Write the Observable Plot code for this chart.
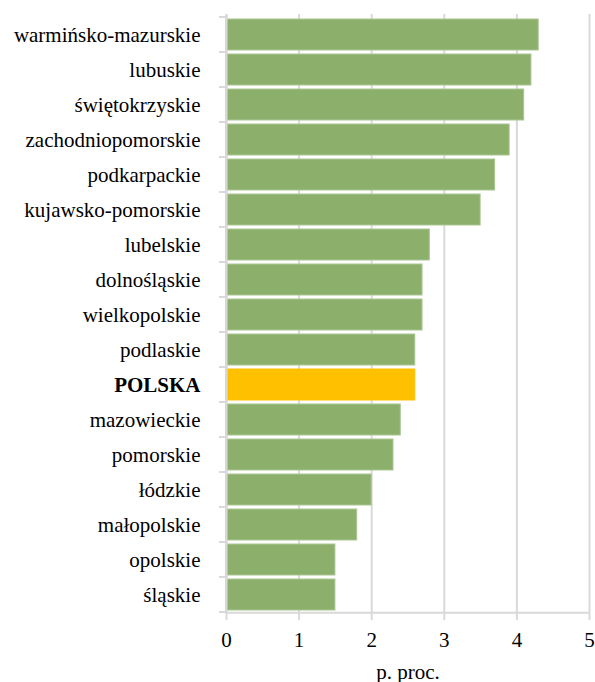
<!DOCTYPE html>
<html>
<head>
<meta charset="utf-8">
<script src="https://cdn.jsdelivr.net/npm/d3@7"></script>
<script src="https://cdn.jsdelivr.net/npm/@observablehq/plot@0.6"></script>
<style>
  html, body { margin: 0; padding: 0; background: #fff; }
  #chart svg { display: block; }
  #chart svg, #chart svg text { font-family: "Liberation Serif", "Times New Roman", serif !important; }
</style>
</head>
<body>
<div id="chart"></div>
<script>
const regions = [
  "warmińsko-mazurskie", "lubuskie", "świętokrzyskie", "zachodniopomorskie",
  "podkarpackie", "kujawsko-pomorskie", "lubelskie", "dolnośląskie",
  "wielkopolskie", "podlaskie", "POLSKA", "mazowieckie", "pomorskie",
  "łódzkie", "małopolskie", "opolskie", "śląskie"
];
const values = [4.3, 4.2, 4.1, 3.9, 3.7, 3.5, 2.8, 2.7, 2.7, 2.6, 2.6, 2.4, 2.3, 2.0, 1.8, 1.5, 1.5];
const xTicks = [0, 1, 2, 3, 4, 5];
const xLabel = "p. proc.";
const highlight = "POLSKA";

const data = regions.map((r, i) => ({region: r, value: values[i]}));

const W = 595, H = 682, mTop = 14, mBottom = 68, mLeft = 226, mRight = 6;
const step = (H - mTop - mBottom) / regions.length;
const grid = "#d9d9d9";
const font = "'Liberation Serif', 'Times New Roman', serif";
const fs = 21;

const chart = Plot.plot({
  width: W,
  height: H,
  marginTop: mTop,
  marginBottom: mBottom,
  marginLeft: mLeft,
  marginRight: mRight,
  style: {fontFamily: font, fontSize: fs + "px", color: "#000", background: "#fff"},
  x: {domain: [0, 5]},
  y: {domain: regions, paddingInner: 0.12, paddingOuter: 0.06, axis: null},
  marks: [
    Plot.gridX(xTicks, {stroke: grid, strokeOpacity: 1, strokeWidth: 2}),
    Plot.barX(data, {
      x: "value", y: "region",
      fill: d => d.region === highlight ? "#ffc000" : "#8cb06c",
      stroke: d => d.region === highlight ? "#ffc000" : "#a9c592",
      strokeWidth: 1
    }),
    Plot.ruleX([0], {stroke: grid, strokeWidth: 2}),
    Plot.axisX({
      ticks: xTicks, tickFormat: d3.format("d"),
      tickSize: 6, tickPadding: 12,
      stroke: grid, strokeWidth: 2, fill: "#000",
      fontFamily: font, fontSize: fs,
      label: xLabel, labelAnchor: "center", labelArrow: "none", labelOffset: 64
    }),
    Plot.ruleY([regions[regions.length - 1]], {y: d => d, dy: step / 2, stroke: grid, strokeWidth: 2}),
    Plot.text(regions.filter(r => r !== highlight), {
      x: 0, y: d => d, text: d => d,
      textAnchor: "end", dx: -26,
      fill: "#000", fontFamily: font, fontSize: fs
    }),
    Plot.text([highlight], {
      x: 0, y: d => d, text: d => d,
      textAnchor: "end", dx: -26,
      fill: "#000", fontFamily: font, fontSize: fs, fontWeight: "bold"
    })
  ]
});

document.getElementById("chart").appendChild(chart);

// left-side category boundary ticks (Excel style)
const yScale = chart.scale("y");
const xs = chart.scale("x");
const x0 = xs.apply(0);
const half = (yScale.step - yScale.bandwidth) / 2;
const bounds = regions.map(r => yScale.apply(r) - half);
bounds.push(yScale.apply(regions[regions.length - 1]) + yScale.bandwidth + half);
const g = d3.select(chart).append("g").attr("stroke", grid).attr("stroke-width", 2);
bounds.forEach(b => {
  g.append("line").attr("x1", x0 - 7).attr("x2", x0).attr("y1", b).attr("y2", b);
});
</script>
</body>
</html>
